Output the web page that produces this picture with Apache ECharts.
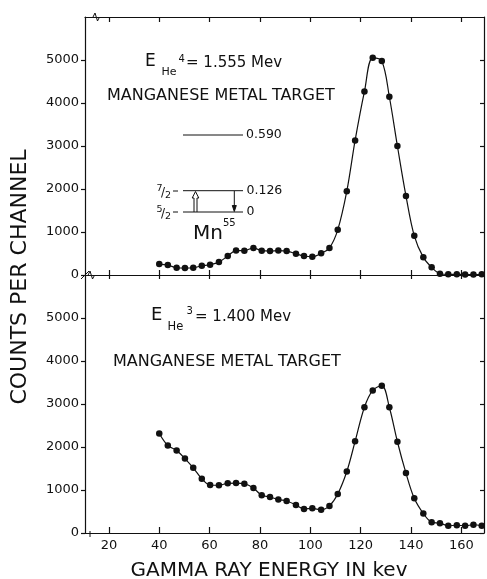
<!DOCTYPE html>
<html>
<head>
<meta charset="utf-8">
<script src="https://cdn.jsdelivr.net/npm/echarts@6/dist/echarts.min.js"></script>
<style>
html,body{margin:0;padding:0;background:#fff;}
#chart{width:487px;height:579px;}
</style>
</head>
<body>
<div id="chart"></div>
<script>
// ---- data ----
const energyKeV = [40.0, 43.4, 46.9, 50.2, 53.5, 56.9, 60.2, 63.7, 67.2, 70.5, 73.8, 77.4, 80.7, 84.0, 87.3, 90.6, 94.3, 97.5, 100.8, 104.3, 107.6, 110.9, 114.5, 117.8, 121.5, 124.8, 128.4, 131.4, 134.6, 138.0, 141.3, 144.9, 148.2, 151.5, 154.8, 158.2, 161.5, 164.8, 168.1];
const countsHe4 = [255, 232, 168, 160, 168, 215, 238, 300, 442, 568, 566, 628, 566, 556, 568, 556, 495, 442, 426, 503, 630, 1050, 1950, 3130, 4265, 5050, 4975, 4145, 3000, 1840, 910, 410, 180, 30, 15, 15, 10, 10, 15];
const countsHe3 = [2315, 2035, 1920, 1730, 1515, 1260, 1115, 1110, 1155, 1160, 1145, 1046, 877, 838, 777, 745, 654, 561, 575, 538, 630, 907, 1430, 2131, 2924, 3316, 3425, 2924, 2122, 1393, 806, 453, 252, 229, 168, 182, 168, 192, 168];
const xTickValues = [20, 40, 60, 80, 100, 120, 140, 160];
const yTickValues = [0, 1000, 2000, 3000, 4000, 5000];
const xAxisTitle = 'GAMMA RAY ENERGY IN kev';
const yAxisTitle = 'COUNTS PER CHANNEL';
const targetLabel = 'MANGANESE METAL TARGET';
const levelEnergies = ['0.590', '0.126', '0'];

const FONT = 'DejaVu Sans';
const INK = '#111';

const chart = echarts.init(document.getElementById('chart'), null, {renderer: 'canvas'});

function xAxisDef(grid, pos, showLabel, tickLen, showLine) {
  return {
    type: 'value', gridIndex: grid, position: pos, min: 10.5, max: 169,
    axisLine: {show: showLine, onZero: false, lineStyle: {color: INK, width: 1.2}},
    axisTick: {show: true, inside: true, length: tickLen, customValues: xTickValues, lineStyle: {color: INK, width: 1.2}},
    axisLabel: {show: showLabel, customValues: xTickValues, margin: 6, color: INK, fontFamily: FONT, fontSize: 13, formatter: v => String(v)},
    splitLine: {show: false}
  };
}
function yAxisDef(grid, pos, showLabel) {
  return {
    type: 'value', gridIndex: grid, position: pos, min: 0, max: 6000,
    axisLine: {show: true, onZero: false, lineStyle: {color: INK, width: 1.2}},
    axisTick: {show: true, inside: pos === 'right', length: 4, customValues: yTickValues, lineStyle: {color: INK, width: 1.2}},
    axisLabel: {show: showLabel, customValues: yTickValues, margin: 6, color: INK, fontFamily: FONT, fontSize: 13, formatter: v => String(v)},
    splitLine: {show: false}
  };
}
function series(xi, yi, vals) {
  return {
    type: 'line', xAxisIndex: xi, yAxisIndex: yi,
    data: energyKeV.map((e, i) => [e, vals[i]]),
    smooth: 0.35, symbol: 'circle', symbolSize: 6.5,
    itemStyle: {color: INK}, lineStyle: {color: INK, width: 1.2},
    animation: false
  };
}
function txt(x, y, s, size, align) {
  return {type: 'text', x: x, y: y, style: {text: s, fill: INK, font: size + 'px "' + FONT + '"', textAlign: align || 'left', textVerticalAlign: 'middle'}};
}
function ln(x1, y1, x2, y2, w) {
  return {type: 'line', shape: {x1: x1, y1: y1, x2: x2, y2: y2}, style: {stroke: INK, lineWidth: w || 1}};
}
function poly(points, fill) {
  return {type: 'polyline', shape: {points: points}, style: {stroke: INK, lineWidth: 1, fill: fill || null}};
}

const graphics = [
  {type: 'text', x: 20, y: 277, rotation: Math.PI / 2, style: {text: yAxisTitle, fill: INK, font: '22px "' + FONT + '"', textAlign: 'center', textVerticalAlign: 'middle'}},
  txt(269, 571, xAxisTitle, 20, 'center'),
  // top panel heading
  txt(145, 61.5, 'E', 17), txt(161.5, 72, 'He', 11), txt(178.5, 59.5, '4', 10), txt(186, 62.8, '= 1.555 Mev', 15),
  txt(107, 96, targetLabel, 16),
  // bottom panel heading
  txt(151, 315, 'E', 18), txt(167.5, 327.5, 'He', 11.5), txt(186.5, 311.5, '3', 10), txt(195, 316.8, '= 1.400 Mev', 15),
  txt(113, 361.7, targetLabel, 16),
  // level scheme
  ln(183, 135, 243, 135), txt(246, 135, levelEnergies[0], 12.5),
  ln(183, 190.7, 243, 190.7), txt(246.5, 190.7, levelEnergies[1], 12.5),
  ln(183, 212, 243, 212), txt(246.5, 212, levelEnergies[2], 12.5),
  txt(156.5, 188.5, '7', 9.5), txt(161, 192.5, '/', 12), txt(165, 196, '2', 9.5), ln(173, 191, 178, 191),
  txt(156.5, 209.5, '5', 9.5), txt(161, 213.5, '/', 12), txt(165, 217, '2', 9.5), ln(173, 212, 178, 212),
  poly([[194, 212], [194, 198], [192.2, 198], [195.5, 191.5], [198.8, 198], [197, 198], [197, 212]]),
  ln(234.3, 191, 234.3, 210),
  poly([[232.3, 205.5], [234.3, 211.5], [236.3, 205.5], [232.3, 205.5]], INK),
  txt(193, 233.5, 'Mn', 20), txt(223, 223.5, '55', 10),
  // axis break marks
  poly([[81, 279], [89, 271]]),
  poly([[88, 275.3], [90, 271], [92.5, 279], [94.5, 275.3]]),
  poly([[93, 17], [95, 13], [97.5, 21], [99.5, 17]]),
  ln(90, 531, 90, 537)
];

chart.setOption({
  animation: false,
  backgroundColor: '#fff',
  grid: [
    {left: 85, right: 3, top: 17, height: 258},
    {left: 85, right: 3, top: 275, height: 258}
  ],
  xAxis: [
    xAxisDef(0, 'bottom', false, 5, true),
    xAxisDef(0, 'top', false, 5, true),
    xAxisDef(1, 'bottom', true, 6, true),
    xAxisDef(1, 'top', false, 4, false)
  ],
  yAxis: [
    yAxisDef(0, 'left', true),
    yAxisDef(0, 'right', false),
    yAxisDef(1, 'left', true),
    yAxisDef(1, 'right', false)
  ],
  series: [series(0, 0, countsHe4), series(2, 2, countsHe3)],
  graphic: graphics
});
</script>
</body>
</html>
